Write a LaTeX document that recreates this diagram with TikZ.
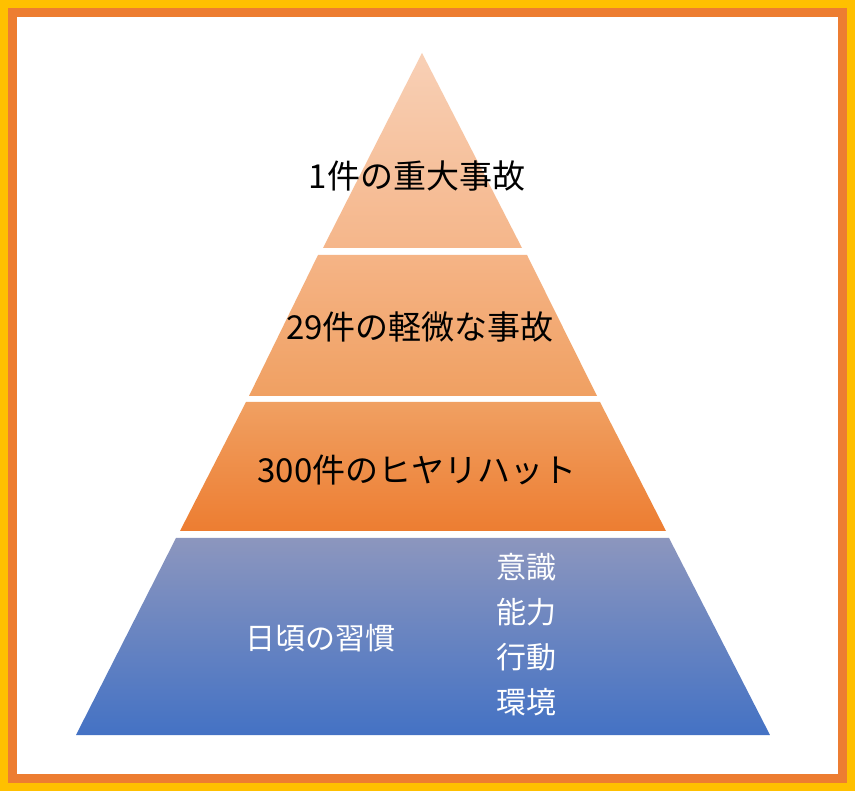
\documentclass[tikz,border=0pt]{standalone}
\usepackage{fontspec}
\setmainfont{Noto Sans CJK JP}
\definecolor{gold}{RGB}{255,192,0}
\definecolor{org}{RGB}{237,125,49}
\definecolor{a1}{RGB}{248,208,182}
\definecolor{a2}{RGB}{245,182,138}
\definecolor{b1}{RGB}{245,180,134}
\definecolor{b2}{RGB}{240,160,98}
\definecolor{c1}{RGB}{240,160,98}
\definecolor{c2}{RGB}{237,125,49}
\definecolor{d1}{RGB}{140,150,190}
\definecolor{d2}{RGB}{68,114,196}
\begin{document}
\begin{tikzpicture}[x=1pt,y=-1pt,lbl/.style={inner sep=0pt,font=\fontsize{33}{36}\selectfont}]
\useasboundingbox (0,0) rectangle (855,791);
\fill[gold] (0,0) rectangle (855,791);
\fill[org] (8,8) rectangle (847,783);
\fill[white] (17,17) rectangle (838,774);
\shade[top color=a1,bottom color=a2] (422,53) -- (522,248) -- (323,248) -- cycle;
\shade[top color=b1,bottom color=b2] (318,255) -- (527,255) -- (597,396) -- (249,396) -- cycle;
\shade[top color=c1,bottom color=c2] (246,402) -- (600,402) -- (666,531) -- (180,531) -- cycle;
\shade[top color=d1,bottom color=d2] (176,538) -- (669,538) -- (770,735) -- (76,735) -- cycle;
\node[lbl] (t1) at (417,176) {1件の重大事故};
\node[lbl] (t2) at (420,327) {29件の軽微な事故};
\node[lbl] (t3) at (417,470) {300件のヒヤリハット};
\node[lbl,white,font=\fontsize{30}{33}\selectfont] (t4) at (320,638) {日頃の習慣};
\node[lbl,white,font=\fontsize{30}{45}\selectfont,align=left] (t5) at (526,635) {意識\\能力\\行動\\環境};
\end{tikzpicture}
\end{document}
